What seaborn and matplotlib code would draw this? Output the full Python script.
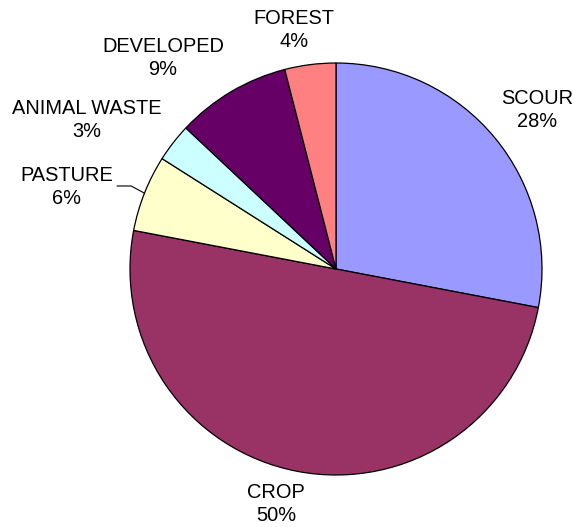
import numpy as np
import matplotlib
matplotlib.use("Agg")
import matplotlib.pyplot as plt
import seaborn as sns

# Share of load by source
sources = ["SCOUR", "CROP", "PASTURE", "ANIMAL WASTE", "DEVELOPED", "FOREST"]
shares = [28, 50, 6, 3, 9, 4]
colors = ["#9999FF", "#993366", "#FFFFCC", "#CCFFFF", "#660066", "#FF8080"]

# Label anchors (pie radius = 1, centre at origin)
label_xy = [(0.976, 0.772), (-0.291, -1.141), (-1.306, 0.398),
            (-1.209, 0.723), (-0.840, 1.024), (-0.204, 1.160)]

sns.set_theme(style="white")
plt.rcParams["font.family"] = ["Liberation Sans", "DejaVu Sans"]

W, H, DPI = 573, 527, 100
R, CX, CY = 206.0, 336.0, 269.0
fig = plt.figure(figsize=(W / DPI, H / DPI), dpi=DPI)
ax = fig.add_axes([0, 0, 1, 1])

wedges, _ = ax.pie(shares, colors=sns.color_palette(colors), startangle=90,
                   counterclock=False, radius=1,
                   wedgeprops=dict(edgecolor="black", linewidth=0.9))

for name, val, (x, y) in zip(sources, shares, label_xy):
    ax.text(x, y, f"{name}\n{val}%", ha="center", va="center",
            fontsize=14.4, color="black", linespacing=1.25)

# Leader line for the PASTURE label
w = wedges[sources.index("PASTURE")]
mid = np.deg2rad((w.theta1 + w.theta2) / 2)
ex, ey = np.cos(mid), np.sin(mid)
lx, ly = label_xy[sources.index("PASTURE")]
ax.plot([lx + 0.243, ex - 0.065, ex], [ly + 0.005, ly + 0.005, ey],
        color="black", linewidth=0.8)

ax.set_xlim(-CX / R, (W - CX) / R)
ax.set_ylim(-(H - CY) / R, CY / R)
ax.set_aspect("equal")
ax.axis("off")

fig.savefig("out.png", dpi=DPI, facecolor="white")
